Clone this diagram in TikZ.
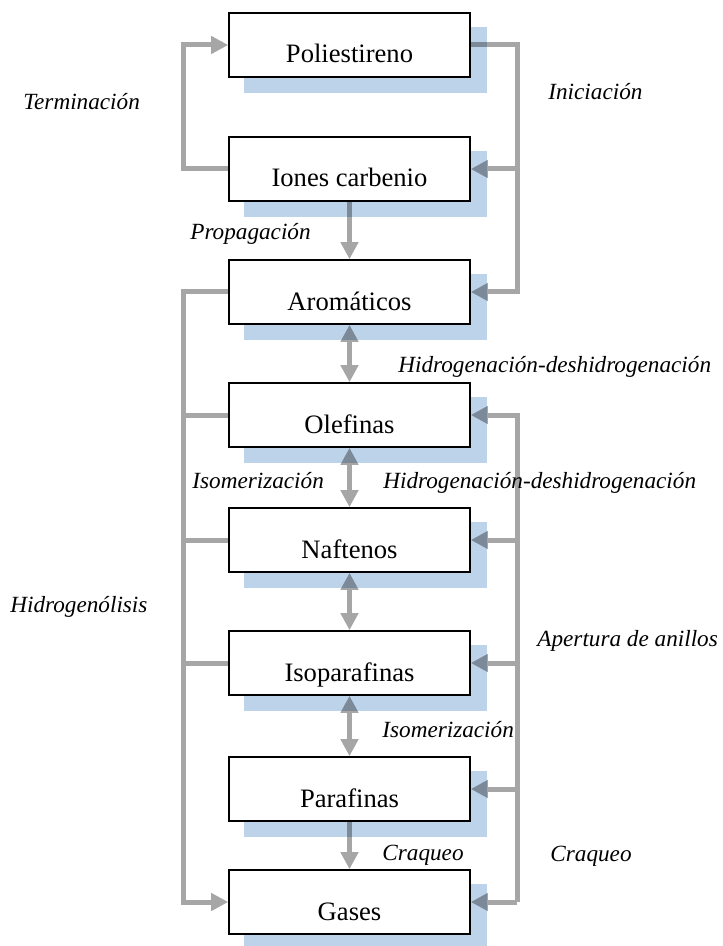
\documentclass[tikz,border=0pt]{standalone}
\usepackage{fontspec}
\setmainfont{Liberation Serif}
\usetikzlibrary{arrows.meta}
\definecolor{shadowblue}{RGB}{189,211,234}
\definecolor{flowgray}{RGB}{166,166,166}
\pgfdeclarelayer{lines}
\pgfdeclarelayer{shade}
\pgfsetlayers{lines,shade,main}
\tikzset{
  stage/.style={draw=black, line width=0.8pt, fill=white,
    minimum width=120.5pt, minimum height=32pt, inner sep=0pt,
    text height=25pt, text depth=7pt, font=\fontsize{13.3}{16}\selectfont},
  link/.style={draw=flowgray, line width=2.5pt},
  flow/.style={link, -{Triangle[length=8.5pt,width=8.5pt]}},
  both/.style={link, {Triangle[length=8.5pt,width=8.5pt]}-{Triangle[length=8.5pt,width=8.5pt]}},
  tag/.style={anchor=base west, inner sep=0pt, font=\fontsize{11.6}{14}\selectfont\itshape},
}
\begin{document}
\begin{tikzpicture}[x=0.5pt,y=-0.5pt]
\useasboundingbox (0,0) rectangle (722,946);

% process stages
\node[stage] (poli) at (349.5,45)  {Poliestireno};
\node[stage] (ion)  at (349.5,169) {Iones carbenio};
\node[stage] (aro)  at (349.5,292) {Aromáticos};
\node[stage] (ole)  at (349.5,415) {Olefinas};
\node[stage] (naf)  at (349.5,540) {Naftenos};
\node[stage] (iso)  at (349.5,663) {Isoparafinas};
\node[stage] (par)  at (349.5,789) {Parafinas};
\node[stage] (gas)  at (349.5,902) {Gases};

% offset shadows, multiplied over the connectors
\begin{pgfonlayer}{shade}
  \foreach \s in {poli,ion,aro,ole,naf,iso,par,gas}
    \fill[shadowblue, blend mode=multiply]
      ([shift={(8pt,-7.5pt)}]\s.south west) rectangle ([shift={(8pt,-7.5pt)}]\s.north east);
\end{pgfonlayer}

% vertical buses
\coordinate (lx) at (183,0);
\coordinate (rx) at (517,0);

\begin{pgfonlayer}{lines}
  % termination loop
  \draw[flow] (ion.west) -- (ion.west -| lx) -- (poli.west -| lx) -- (poli.west);
  % initiation
  \draw[flow] (poli.east) -- (poli.east -| rx) -- (aro.east -| rx) -- (aro.east);
  \draw[flow] (ion.east -| rx) -- (ion.east);
  % propagation
  \draw[flow] (ion.south) -- (aro.north);
  % hydrogenolysis to gases
  \draw[flow] (aro.west) -- (aro.west -| lx) -- (gas.west -| lx) -- (gas.west);
  \draw[link] (ole.west) -- (ole.west -| lx);
  \draw[link] (naf.west) -- (naf.west -| lx);
  \draw[link] (iso.west) -- (iso.west -| lx);
  % ring opening / cracking bus
  \draw[flow] (gas.east -| rx) -- (ole.east -| rx) -- (ole.east);
  \draw[flow] (naf.east -| rx) -- (naf.east);
  \draw[flow] (iso.east -| rx) -- (iso.east);
  \draw[flow] (par.east -| rx) -- (par.east);
  \draw[flow] (gas.east -| rx) -- (gas.east);
  % reversible steps along the main column
  \draw[both] (aro.south) -- (ole.north);
  \draw[both] (ole.south) -- (naf.north);
  \draw[both] (naf.south) -- (iso.north);
  \draw[both] (iso.south) -- (par.north);
  \draw[flow] (par.south) -- (gas.north);
\end{pgfonlayer}

% reaction labels
\node[tag] (lterm) at (23,110)  {Terminación};
\node[tag] (lini)  at (548,100) {Iniciación};
\node[tag] (lprop) at (190,240) {Propagación};
\node[tag] (lhd1)  at (398,372) {Hidrogenación-deshidrogenación};
\node[tag] (liso1) at (192,488) {Isomerización};
\node[tag] (lhd2)  at (383,488) {Hidrogenación-deshidrogenación};
\node[tag] (lhgl)  at (10,612)  {Hidrogenólisis};
\node[tag] (lap)   at (537,646) {Apertura de anillos};
\node[tag] (liso2) at (382,737) {Isomerización};
\node[tag] (lcr1)  at (382,860) {Craqueo};
\node[tag] (lcr2)  at (550,861) {Craqueo};
\end{tikzpicture}
\end{document}
